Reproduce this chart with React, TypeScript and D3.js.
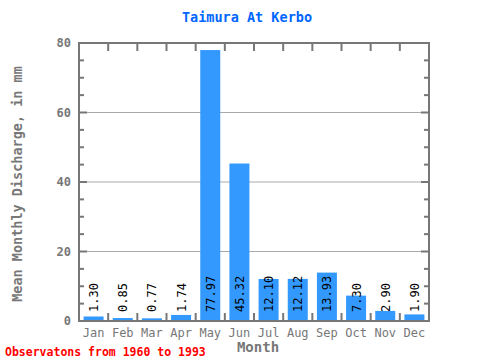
import React from "react";
import * as d3 from "d3";

const months = ["Jan", "Feb", "Mar", "Apr", "May", "Jun", "Jul", "Aug", "Sep", "Oct", "Nov", "Dec"];
const values = [1.3, 0.85, 0.77, 1.74, 77.97, 45.32, 12.1, 12.12, 13.93, 7.3, 2.9, 1.9];
const labels = ["1.30", "0.85", "0.77", "1.74", "77.97", "45.32", "12.10", "12.12", "13.93", "7.30", "2.90", "1.90"];
const yTicks = [0, 20, 40, 60, 80];
const yMinor = d3.range(5, 80, 5).filter((v) => v % 20 !== 0);

const title = "Taimura At Kerbo";
const xTitle = "Month";
const yTitle = "Mean Monthly Discharge, in mm";
const footer = "Observatons from 1960 to 1993";

export default function App() {
  const W = 480, H = 360;
  const L = 79, R = 429, T = 43, B = 321;
  const x = d3.scaleBand<string>().domain(months).range([L, R]).padding(0);
  const y = d3.scaleLinear().domain([0, 80]).range([B, T]);
  const bw = 20;
  const mono = "'DejaVu Sans Mono', 'Liberation Mono', monospace";
  const axisC = "#777777";
  const bounds = months.slice(1).map((m) => x(m) as number);

  return (
    <svg width={W} height={H} style={{ position: "absolute", left: 0, top: 0 }} fontFamily={mono}>
      <rect x={0} y={0} width={W} height={H} fill="#fff" />
      <text x={247} y={22} textAnchor="middle" fill="#0066ff" fontWeight="bold" fontSize={13.5}>{title}</text>
      {yTicks.filter((t) => t > 0 && t < 80).map((t) => (
        <line key={t} x1={L} x2={R} y1={y(t)} y2={y(t)} stroke="#aaaaaa" strokeWidth={1} />
      ))}
      {months.map((m, i) => {
        const cx = (x(m) as number) + x.bandwidth() / 2;
        return (
          <rect key={m} x={cx - bw / 2} y={y(values[i])} width={bw} height={B - y(values[i])} fill="#3399ff" />
        );
      })}
      {months.map((m, i) => {
        const cx = (x(m) as number) + x.bandwidth() / 2;
        return (
          <text key={m} transform={`translate(${cx + 4.5},${B - 9}) rotate(-90)`} fontSize={12} fill="#000">{labels[i]}</text>
        );
      })}
      <rect x={L} y={T} width={R - L} height={B - T} fill="none" stroke={axisC} strokeWidth={2} />
      {yTicks.map((t) => (
        <g key={t}>
          <line x1={L} x2={L + 8} y1={y(t)} y2={y(t)} stroke={axisC} strokeWidth={2} />
          <line x1={R} x2={R - 8} y1={y(t)} y2={y(t)} stroke={axisC} strokeWidth={2} />
          <text x={L - 8} y={y(t) + 4} textAnchor="end" fontSize={12} fill="#777" fontWeight="bold">{t}</text>
        </g>
      ))}
      {yMinor.map((t) => (
        <g key={t}>
          <line x1={L} x2={L + 5} y1={y(t)} y2={y(t)} stroke={axisC} strokeWidth={2} />
          <line x1={R} x2={R - 5} y1={y(t)} y2={y(t)} stroke={axisC} strokeWidth={2} />
        </g>
      ))}
      {bounds.map((bx, i) => (
        <g key={i}>
          <line x1={bx} x2={bx} y1={T} y2={T + 8} stroke={axisC} strokeWidth={2} />
          <line x1={bx} x2={bx} y1={B} y2={B - 8} stroke={axisC} strokeWidth={2} />
        </g>
      ))}
      {months.map((m) => (
        <text key={m} x={(x(m) as number) + x.bandwidth() / 2} y={337} textAnchor="middle" fontSize={12} fill="#777">{m}</text>
      ))}
      <text x={258} y={352} textAnchor="middle" fontSize={14} fontWeight="bold" fill="#777">{xTitle}</text>
      <text transform={`translate(22,${(T + B) / 2 + 2}) rotate(-90)`} textAnchor="middle" fontSize={13.5} fontWeight="bold" fill="#777">{yTitle}</text>
      <text x={5} y={356} fontSize={11.5} fontWeight="bold" fill="#ff0000">{footer}</text>
    </svg>
  );
}
